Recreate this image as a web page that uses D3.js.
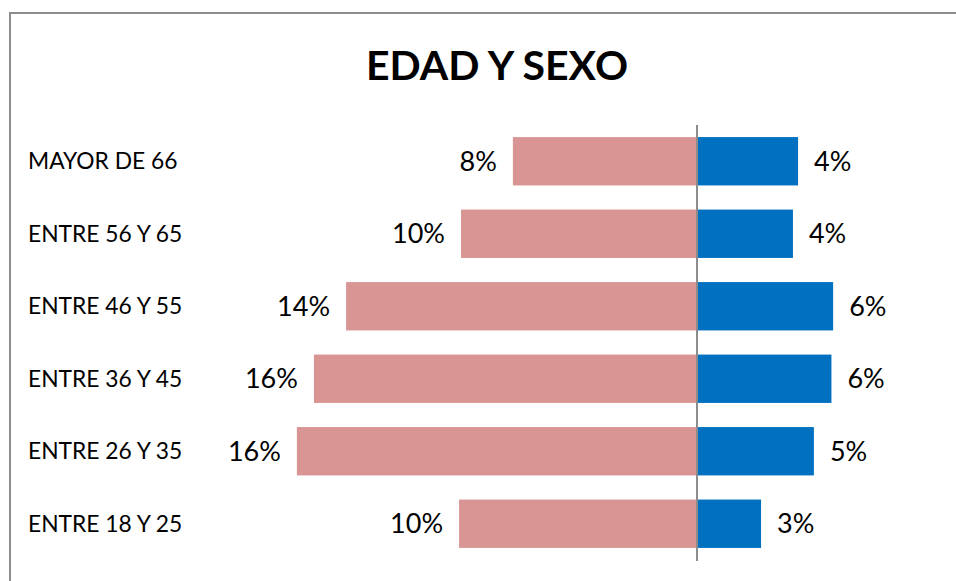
<!DOCTYPE html>
<html>
<head>
<meta charset="utf-8">
<script src="https://cdn.jsdelivr.net/npm/d3@7"></script>
<style>
  body { margin: 0; background: #fff; }
  svg { display: block; }
  text { font-family: Lato, "Open Sans", sans-serif; fill: #000; }
</style>
</head>
<body>
<div id="chart"></div>
<script>
//Chart data//
var categories = ["MAYOR DE 66", "ENTRE 56 Y 65", "ENTRE 46 Y 55", "ENTRE 36 Y 45", "ENTRE 26 Y 35", "ENTRE 18 Y 25"];
//Women (left, pink) in %
var mujeres = [7.56, 9.69, 14.41, 15.73, 16.43, 9.77];
//Men (right, blue) in %
var hombres = [4.15, 3.94, 5.59, 5.52, 4.80, 2.63];

var w = 956, h = 581;
var svg = d3.select("#chart")
  .append("svg")
  .attr("width", w)
  .attr("height", h);

//Frame (only top and left edges visible)
svg.append("rect")
  .attr("x", 10).attr("y", 13)
  .attr("width", 1200).attr("height", 1200)
  .style("fill", "none")
  .style("stroke", "#8c8c8c")
  .style("stroke-width", 2);

//Title
svg.append("text")
  .attr("x", 497).attr("y", 80)
  .attr("text-anchor", "middle")
  .style("font-weight", "bold")
  .style("font-size", "41px")
  .text("EDAD Y SEXO");

var x = d3.scaleLinear().domain([-17, 17]).range([283, 1111]);
var y = d3.scaleBand().domain(categories).range([125, 560])
  .paddingInner(0.333).paddingOuter(0.1667);

var pct = function(v) { return d3.format(".0f")(v) + "%"; };

var rows = categories.map(function(c, i) {
  return { cat: c, f: mujeres[i], m: hombres[i] };
});

//Category labels
svg.selectAll(".cat")
  .data(rows).enter()
  .append("text")
  .attr("class", "cat")
  .attr("x", 28)
  .attr("y", function(d) { return y(d.cat) + y.bandwidth() / 2; })
  .attr("dy", "0.35em")
  .style("font-size", "22.8px")
  .text(function(d) { return d.cat; });

//Women bars
svg.selectAll(".barF")
  .data(rows).enter()
  .append("rect")
  .attr("class", "barF")
  .attr("x", function(d) { return x(-d.f); })
  .attr("y", function(d) { return y(d.cat); })
  .attr("width", function(d) { return x(0) - x(-d.f); })
  .attr("height", y.bandwidth())
  .style("fill", "#D99594");

//Men bars
svg.selectAll(".barM")
  .data(rows).enter()
  .append("rect")
  .attr("class", "barM")
  .attr("x", x(0))
  .attr("y", function(d) { return y(d.cat); })
  .attr("width", function(d) { return x(d.m) - x(0); })
  .attr("height", y.bandwidth())
  .style("fill", "#0070C0");

//Value labels
svg.selectAll(".lblF")
  .data(rows).enter()
  .append("text")
  .attr("class", "lblF")
  .attr("x", function(d) { return x(-d.f) - 16; })
  .attr("y", function(d) { return y(d.cat) + y.bandwidth() / 2; })
  .attr("dy", "0.35em")
  .attr("text-anchor", "end")
  .style("font-size", "27px")
  .text(function(d) { return pct(d.f); });

svg.selectAll(".lblM")
  .data(rows).enter()
  .append("text")
  .attr("class", "lblM")
  .attr("x", function(d) { return x(d.m) + 16; })
  .attr("y", function(d) { return y(d.cat) + y.bandwidth() / 2; })
  .attr("dy", "0.35em")
  .style("font-size", "27px")
  .text(function(d) { return pct(d.m); });

//Center axis
svg.append("line")
  .attr("x1", x(0)).attr("x2", x(0))
  .attr("y1", 125).attr("y2", 561)
  .style("stroke", "#8c8c8c")
  .style("stroke-width", 2);
</script>
</body>
</html>
